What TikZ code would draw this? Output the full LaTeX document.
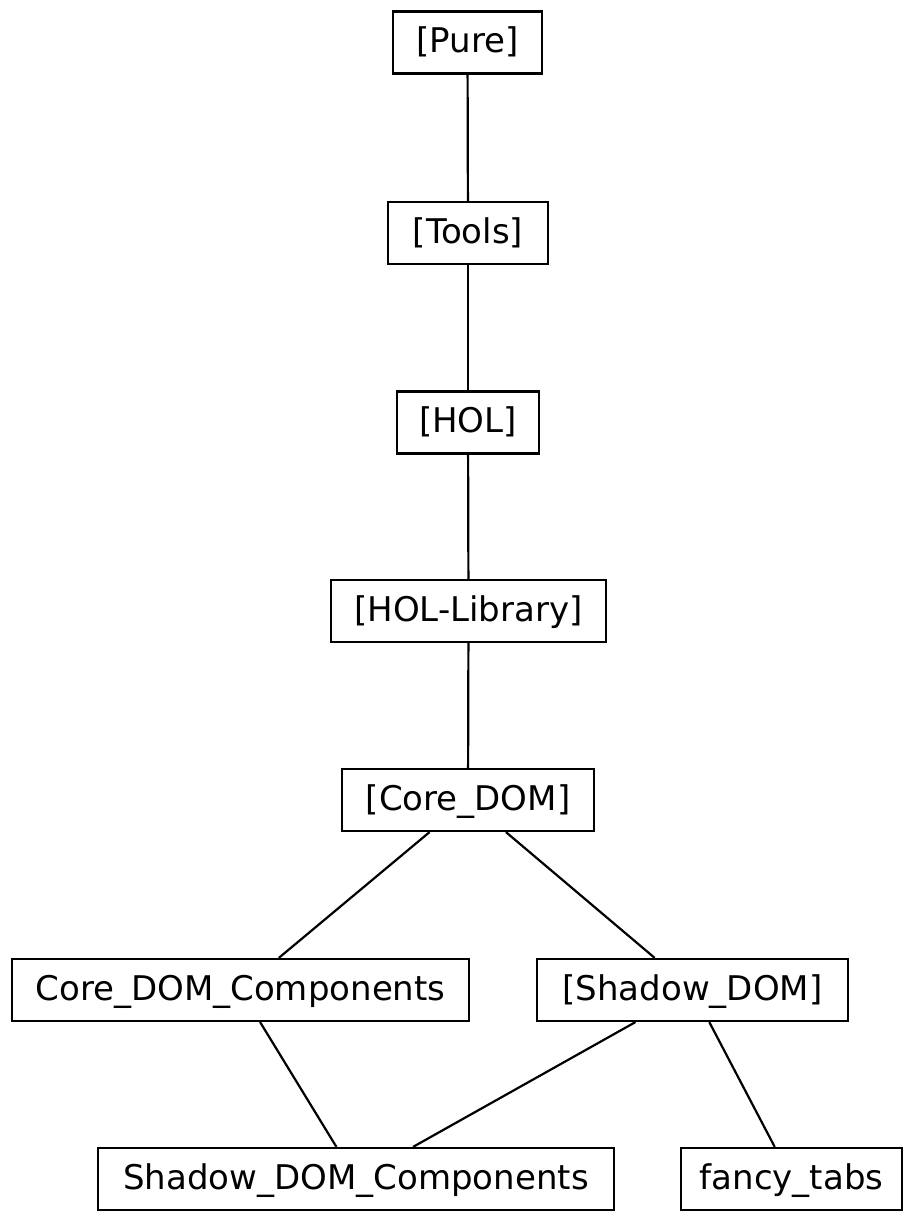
\documentclass[tikz,border=0pt]{standalone}
\usepackage{fontspec}
\setmainfont{DejaVu Sans}
\begin{document}
\begin{tikzpicture}[x=1pt,y=-1pt,
  box/.style={draw,line width=2.2pt,minimum height=62pt,inner xsep=0pt,inner ysep=0pt,text height=25pt,text depth=5pt,font=\fontsize{34}{40}\selectfont,anchor=center},
  edge/.style={line width=2.2pt}]
\useasboundingbox (0,0) rectangle (904,1212);
\node[box,minimum width=149pt] (pure) at (467.5,42.5) {[Pure]};
\node[box,minimum width=160pt] (tools) at (468,233) {[Tools]};
\node[box,minimum width=142pt] (hol) at (468,422.5) {[HOL]};
\node[box,minimum width=275pt] (holl) at (468.5,611) {[HOL-Library]};
\node[box,minimum width=252pt] (core) at (468,800) {[Core\_DOM]};
\node[box,minimum width=457pt] (cdc) at (240.5,990) {Core\_DOM\_Components};
\node[box,minimum width=311pt] (sd) at (692.5,990) {[Shadow\_DOM]};
\node[box,minimum width=516pt] (sdc) at (356,1179) {Shadow\_DOM\_Components};
\node[box,minimum width=221pt] (ft) at (791.5,1179) {fancy\_tabs};
\draw[edge] (pure) -- (tools);
\draw[edge] (tools) -- (hol);
\draw[edge] (hol) -- (holl);
\draw[edge] (holl) -- (core);
\draw[edge] (core) -- (cdc);
\draw[edge] (core) -- (sd);
\draw[edge] (cdc) -- (sdc);
\draw[edge] (sd) -- (sdc);
\draw[edge] (sd) -- (ft);
\end{tikzpicture}
\end{document}
